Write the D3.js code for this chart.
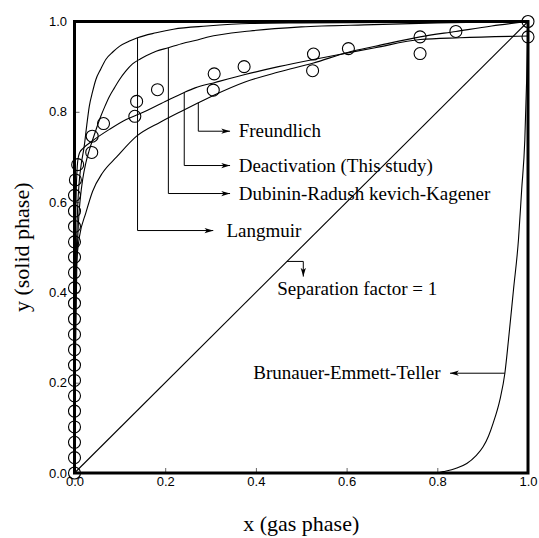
<!DOCTYPE html>
<html>
<head>
<meta charset="utf-8">
<script src="https://cdn.jsdelivr.net/npm/d3@7"></script>
<style>
body { margin: 0; background: #fff; }
</style>
</head>
<body>
<script>
// Isotherm comparison: y (solid phase) vs x (gas phase)

var tickValues = [0, 0.2, 0.4, 0.6, 0.8, 1.0];

// experimental points (open circles)
var expX = [0, 0, 0, 0, 0, 0, 0, 0, 0, 0, 0, 0, 0, 0, 0, 0, 0, 0, 0, 0.002, 0.007,
            0.039, 0.038, 0.064, 0.133, 0.137, 0.183, 0.306, 0.308, 0.374, 0.525, 0.527,
            0.604, 0.762, 0.762, 0.841, 1.0, 1.0];
var expY = [0, 0.034, 0.068, 0.102, 0.137, 0.171, 0.205, 0.239, 0.273, 0.307, 0.341,
            0.376, 0.41, 0.444, 0.478, 0.512, 0.546, 0.58, 0.615, 0.649, 0.683,
            0.746, 0.710, 0.774, 0.790, 0.823, 0.849, 0.848, 0.884, 0.900, 0.891, 0.928,
            0.940, 0.929, 0.966, 0.978, 1.0, 0.966];

// model curves
var langmuir = [[0, 0], [0.001, 0.2], [0.003, 0.42], [0.006, 0.56], [0.010, 0.64], [0.0143, 0.68],
                [0.0216, 0.725], [0.027, 0.77], [0.0326, 0.812], [0.04, 0.845], [0.047, 0.871],
                [0.058, 0.895], [0.069, 0.916], [0.085, 0.933], [0.099, 0.945], [0.12, 0.956],
                [0.139, 0.964], [0.18, 0.975], [0.218, 0.983], [0.292, 0.990], [0.387, 0.9956],
                [0.5, 0.997], [0.7, 0.998], [1.0, 1.0]];

var drk = [[0, 0], [0.002, 0.25], [0.005, 0.45], [0.009, 0.56], [0.013, 0.61], [0.018, 0.65],
           [0.025, 0.687], [0.032, 0.713], [0.040, 0.738], [0.048, 0.762], [0.058, 0.79],
           [0.067, 0.812], [0.077, 0.834], [0.088, 0.853], [0.099, 0.871], [0.113, 0.89],
           [0.128, 0.906], [0.145, 0.917], [0.158, 0.924], [0.18, 0.934], [0.207, 0.942],
           [0.24, 0.952], [0.266, 0.958], [0.292, 0.965], [0.387, 0.979], [0.5, 0.988],
           [0.66, 0.993], [0.8, 0.997], [1.0, 1.0]];

var deactivation = [[0, 0], [0.001, 0.3], [0.002, 0.5], [0.004, 0.63], [0.007, 0.69],
                    [0.011, 0.709], [0.02, 0.72], [0.04, 0.736], [0.077, 0.761], [0.114, 0.783],
                    [0.145, 0.796], [0.2, 0.823], [0.242, 0.843], [0.266, 0.853], [0.31, 0.865],
                    [0.376, 0.8825], [0.45, 0.90], [0.527, 0.916], [0.60, 0.93], [0.663, 0.942],
                    [0.762, 0.96], [0.85, 0.964], [1.0, 0.968]];

var freundlich = [[0, 0], [0.0003, 0.3], [0.001, 0.38], [0.003, 0.44], [0.005, 0.472],
                  [0.008, 0.502], [0.011, 0.524], [0.025, 0.576], [0.04, 0.624], [0.062, 0.665],
                  [0.093, 0.70], [0.137, 0.746], [0.189, 0.777], [0.237, 0.802], [0.273, 0.82],
                  [0.306, 0.836], [0.376, 0.866], [0.45, 0.888], [0.527, 0.908], [0.604, 0.932],
                  [0.663, 0.945], [0.762, 0.966], [0.841, 0.978], [0.92, 0.99], [1.0, 1.0]];

var bet = [[0.8, 0], [0.813, 0.003], [0.84, 0.01], [0.865, 0.021], [0.885, 0.038], [0.901, 0.058],
           [0.913, 0.082], [0.923, 0.11], [0.938, 0.162], [0.949, 0.221], [0.957, 0.295],
           [0.968, 0.406], [0.979, 0.517], [0.986, 0.627], [0.993, 0.738], [0.997, 0.87],
           [1.0, 1.0]];

var unity = [[0, 0], [1, 1]];

var width = 539;
var height = 538;

var svg = d3.select("body").append("svg")
    .attr("width", width)
    .attr("height", height);

var x = d3.scaleLinear().domain([0, 1]).range([74.5, 528]);
var y = d3.scaleLinear().domain([0, 1]).range([473, 21.5]);

var serif = "'Liberation Serif', 'Times New Roman', serif";
var sans = "'Liberation Sans', Arial, sans-serif";

// arrow head
svg.append("defs").append("marker")
    .attr("id", "arr")
    .attr("markerUnits", "userSpaceOnUse")
    .attr("viewBox", "0 -4 10 8")
    .attr("refX", 10)
    .attr("refY", 0)
    .attr("markerWidth", 9)
    .attr("markerHeight", 7)
    .attr("orient", "auto")
    .append("path")
    .attr("d", "M0,-3L10,0L0,3L2.5,0Z")
    .attr("fill", "#000");

// axes (ticks point inward)
var xAxis = svg.append("g")
    .attr("transform", "translate(0," + y(0) + ")")
    .call(d3.axisBottom(x).tickValues(tickValues).tickSize(-5).tickPadding(4)
        .tickFormat(d3.format(".1f")));
var yAxis = svg.append("g")
    .attr("transform", "translate(" + x(0) + ",0)")
    .call(d3.axisLeft(y).tickValues(tickValues).tickSize(-5).tickPadding(7.5)
        .tickFormat(d3.format(".1f")));

[xAxis, yAxis].forEach(function(a) {
    a.select(".domain").remove();
    a.selectAll(".tick line").attr("stroke", "#666");
    a.selectAll("text")
        .style("font-family", sans)
        .style("font-size", "13px")
        .attr("fill", "#000");
});

// frame
svg.append("rect")
    .attr("x", x(0))
    .attr("y", y(1))
    .attr("width", x(1) - x(0))
    .attr("height", y(0) - y(1))
    .attr("fill", "none")
    .attr("stroke", "#000")
    .attr("stroke-width", 3);

// curves
var line = d3.line()
    .x(function(d) { return x(d[0]); })
    .y(function(d) { return y(d[1]); })
    .curve(d3.curveMonotoneX);

[langmuir, drk, deactivation, freundlich, bet].forEach(function(c) {
    svg.append("path")
        .attr("d", line(c))
        .attr("fill", "none")
        .attr("stroke", "#000")
        .attr("stroke-width", 1.1);
});

svg.append("path")
    .attr("d", d3.line().x(function(d) { return x(d[0]); }).y(function(d) { return y(d[1]); })(unity))
    .attr("fill", "none")
    .attr("stroke", "#000")
    .attr("stroke-width", 1.1);

// experimental points
svg.selectAll("circle.exp")
    .data(expX)
    .enter().append("circle")
    .attr("class", "exp")
    .attr("cx", function(d) { return x(d); })
    .attr("cy", function(d, i) { return y(expY[i]); })
    .attr("r", 6)
    .attr("fill", "none")
    .attr("stroke", "#000")
    .attr("stroke-width", 1.1);

// leader lines and labels
var notes = [
    { label: "Freundlich", cx: 0.273, cy: 0.82, ly: 0.757, ex: 0.343, tx: 0.362 },
    { label: "Deactivation (This study)", cx: 0.242, cy: 0.843, ly: 0.681, ex: 0.343, tx: 0.362 },
    { label: "Dubinin-Radush kevich-Kagener", cx: 0.207, cy: 0.942, ly: 0.619, ex: 0.343, tx: 0.362 },
    { label: "Langmuir", cx: 0.139, cy: 0.964, ly: 0.537, ex: 0.306, tx: 0.335 }
];

notes.forEach(function(n) {
    svg.append("path")
        .attr("d", "M" + x(n.cx) + "," + y(n.cy) + "V" + y(n.ly) + "H" + x(n.ex))
        .attr("fill", "none")
        .attr("stroke", "#000")
        .attr("stroke-width", 1)
        .attr("marker-end", "url(#arr)");
    svg.append("text")
        .text(n.label)
        .attr("x", x(n.tx))
        .attr("y", y(n.ly))
        .attr("dy", "0.33em")
        .style("font-family", serif)
        .style("font-size", "19px");
});

// separation factor = 1
svg.append("path")
    .attr("d", "M" + x(0.4686) + "," + y(0.4686) + "H" + x(0.5045) + "V" + y(0.435))
    .attr("fill", "none")
    .attr("stroke", "#000")
    .attr("stroke-width", 1)
    .attr("marker-end", "url(#arr)");
svg.append("text")
    .text("Separation factor = 1")
    .attr("x", x(0.447))
    .attr("y", y(0.408))
    .attr("dy", "0.33em")
    .style("font-family", serif)
    .style("font-size", "19px");

// BET
svg.append("line")
    .attr("x1", x(0.949))
    .attr("y1", y(0.221))
    .attr("x2", x(0.828))
    .attr("y2", y(0.221))
    .attr("stroke", "#000")
    .attr("stroke-width", 1)
    .attr("marker-end", "url(#arr)");
svg.append("text")
    .text("Brunauer-Emmett-Teller")
    .attr("x", x(0.807))
    .attr("y", y(0.221))
    .attr("dy", "0.33em")
    .attr("text-anchor", "end")
    .style("font-family", serif)
    .style("font-size", "19px");

// axis titles
svg.append("text")
    .text("x (gas phase)")
    .attr("x", (x(0) + x(1)) / 2)
    .attr("y", 531)
    .attr("text-anchor", "middle")
    .style("font-family", serif)
    .style("font-size", "22px");

svg.append("text")
    .text("y (solid phase)")
    .attr("transform", "translate(29," + ((y(0) + y(1)) / 2) + ") rotate(-90)")
    .attr("text-anchor", "middle")
    .style("font-family", serif)
    .style("font-size", "22px");
</script>
</body>
</html>
